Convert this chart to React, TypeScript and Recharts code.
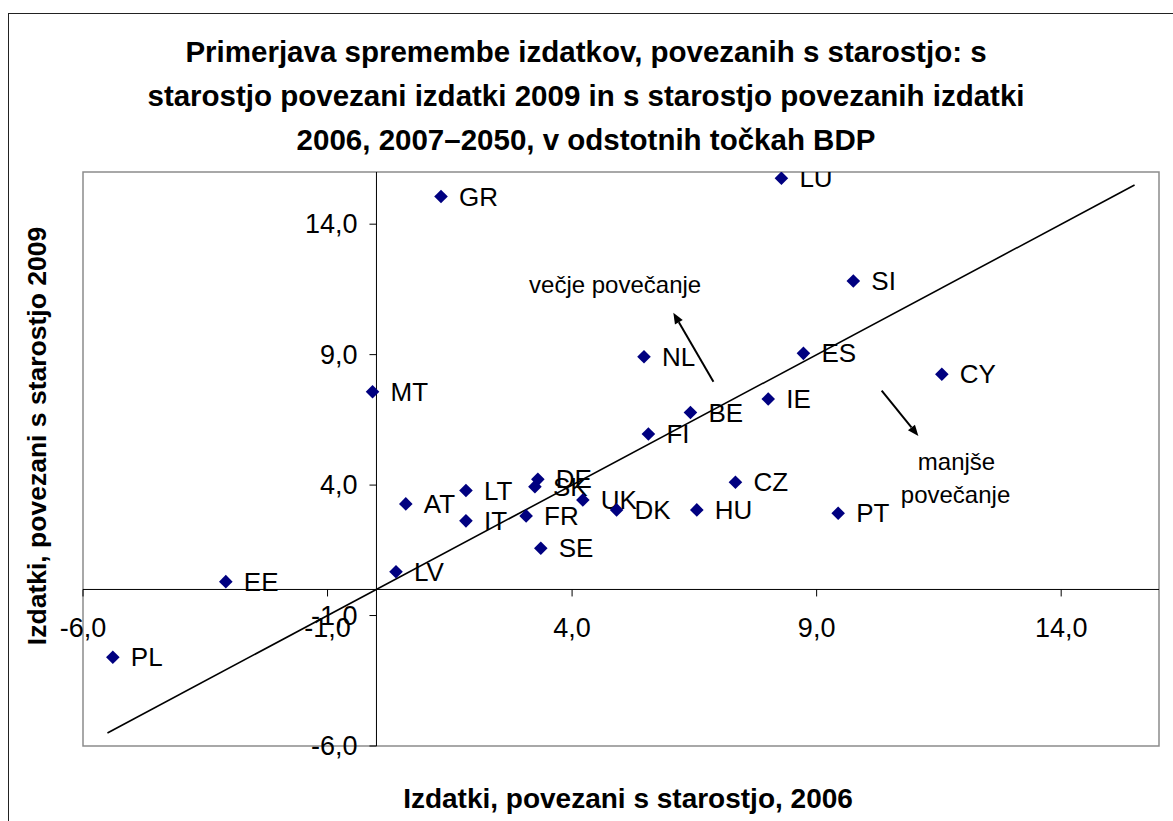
import React from 'react';
import {
  ScatterChart,
  Scatter,
  XAxis,
  YAxis,
  ReferenceLine,
  ReferenceArea,
  ReferenceDot,
} from 'recharts';

// Countries and their age-related spending (percentage points of GDP)
const countries = [
  'GR', 'MT', 'LU', 'NL', 'SI', 'ES', 'IE', 'BE', 'FI', 'CY', 'PT', 'EE', 'PL',
  'LV', 'AT', 'LT', 'IT', 'DE', 'SK', 'UK', 'DK', 'FR', 'SE', 'HU', 'CZ',
];
const spending2006 = [
  1.32, -0.08, 8.28, 5.47, 9.75, 8.73, 8.01, 6.42, 5.56, 11.56, 9.44, -3.08, -5.39,
  0.4, 0.6, 1.83, 1.83, 3.3, 3.24, 4.22, 4.91, 3.06, 3.36, 6.55, 7.34,
];
const spending2009 = [
  15.06, 7.58, 15.76, 8.92, 11.82, 9.05, 7.3, 6.78, 5.96, 8.25, 2.92, 0.3, -2.6,
  0.68, 3.28, 3.79, 2.63, 4.22, 3.94, 3.43, 3.05, 2.82, 1.58, 3.05, 4.11,
];

const axisTicks = [-6, -1, 4, 9, 14];
const axisDomain: [number, number] = [-6, 16];
const diagonalEnds = [-5.5, 15.5];

const arrowFrom = [
  [6.89, 7.96],
  [10.33, 7.62],
];
const arrowTo = [
  [6.07, 10.61],
  [11.08, 5.88],
];
const notes = ['večje povečanje', 'manjše', 'povečanje'];
const noteX = [4.88, 11.86, 11.84];
const noteY = [11.67, 4.9, 3.65];

const titleLines = [
  'Primerjava spremembe izdatkov, povezanih s starostjo: s',
  'starostjo povezani izdatki 2009 in s starostjo povezanih izdatki',
  '2006, 2007–2050, v odstotnih točkah BDP',
];

const W = 1173;
const H = 821;
const MARGIN = { top: 172, right: 14, bottom: 45, left: 23 };
const X_AXIS_H = 30;
const Y_AXIS_W = 60;
const PLOT_LEFT = MARGIN.left + Y_AXIS_W;
const PLOT_W = W - MARGIN.right - PLOT_LEFT;
const PLOT_TOP = MARGIN.top;
const PLOT_H = H - MARGIN.bottom - X_AXIS_H - PLOT_TOP;
const span = axisDomain[1] - axisDomain[0];
const zeroX = PLOT_LEFT + (PLOT_W * (0 - axisDomain[0])) / span;
const zeroY = PLOT_TOP + (PLOT_H * (axisDomain[1] - 0)) / span;

const FONT = '"Liberation Sans", Arial, sans-serif';
const fmt = (v: number) => v.toFixed(1).replace('.', ',');

const points = countries.map((name, i) => ({
  name,
  x: spending2006[i],
  y: spending2009[i],
}));

function XTick(props: any) {
  const { x, payload } = props;
  return (
    <g>
      <line x1={x} x2={x} y1={zeroY} y2={zeroY + 7} stroke="#000" />
      <text
        x={x}
        y={zeroY + 39}
        textAnchor="middle"
        dominantBaseline="central"
        fontSize={27}
        fontFamily={FONT}
        fill="#000"
      >
        {fmt(payload.value)}
      </text>
    </g>
  );
}

function YTick(props: any) {
  const { y, payload } = props;
  return (
    <g>
      <line x1={zeroX - 7} x2={zeroX} y1={y} y2={y} stroke="#000" />
      <text
        x={zeroX - 19}
        y={y}
        textAnchor="end"
        dominantBaseline="central"
        fontSize={27}
        fontFamily={FONT}
        fill="#000"
      >
        {fmt(payload.value)}
      </text>
    </g>
  );
}

function CountryMarker(props: any) {
  const { cx, cy } = props;
  const name = props.payload?.name ?? props.name;
  const r = 6.8;
  return (
    <g>
      <polygon
        points={`${cx},${cy - r} ${cx + r},${cy} ${cx},${cy + r} ${cx - r},${cy}`}
        fill="#000080"
      />
      <text
        x={cx + 18}
        y={cy}
        dominantBaseline="central"
        fontSize={26}
        fontFamily={FONT}
        fill="#000"
      >
        {name}
      </text>
    </g>
  );
}

function Arrow(props: any) {
  const { x1, y1, x2, y2 } = props;
  const ang = Math.atan2(y2 - y1, x2 - x1);
  const len = 11;
  const half = 4.5;
  const bx = x2 - len * Math.cos(ang);
  const by = y2 - len * Math.sin(ang);
  const px = -Math.sin(ang) * half;
  const py = Math.cos(ang) * half;
  return (
    <g>
      <line x1={x1} y1={y1} x2={bx} y2={by} stroke="#000" strokeWidth={2} />
      <polygon
        points={`${x2},${y2} ${bx + px},${by + py} ${bx - px},${by - py}`}
        fill="#000"
      />
    </g>
  );
}

export default function App() {
  return (
    <div style={{ position: 'relative', width: W, height: H, overflow: 'hidden', background: '#fff' }}>
      <style>{`body{margin:0;overflow:hidden;}`}</style>
      <div
        style={{
          position: 'absolute',
          left: 8,
          top: 13,
          width: 1300,
          height: 1000,
          border: '1.5px solid #222',
        }}
      />
      <div style={{ position: 'absolute', left: 0, top: 0 }}>
        <ScatterChart width={W} height={H} margin={MARGIN}>
          <XAxis
            type="number"
            dataKey="x"
            domain={axisDomain}
            ticks={axisTicks}
            allowDataOverflow
            axisLine={false}
            tickLine={false}
            height={X_AXIS_H}
            tick={<XTick />}
            interval={0}
          />
          <YAxis
            type="number"
            dataKey="y"
            domain={axisDomain}
            ticks={axisTicks}
            allowDataOverflow
            axisLine={false}
            tickLine={false}
            width={Y_AXIS_W}
            tick={<YTick />}
            interval={0}
          />
          <ReferenceArea
            x1={axisDomain[0]}
            x2={axisDomain[1]}
            y1={axisDomain[0]}
            y2={axisDomain[1]}
            fill="none"
            fillOpacity={0}
            stroke="#8c8c8c"
            strokeWidth={1.5}
          />
          <ReferenceLine x={0} stroke="#000" strokeWidth={1} />
          <ReferenceLine y={0} stroke="#000" strokeWidth={1} />
          <ReferenceLine
            segment={[
              { x: diagonalEnds[0], y: diagonalEnds[0] },
              { x: diagonalEnds[1], y: diagonalEnds[1] },
            ]}
            stroke="#000"
            strokeWidth={1.6}
          />
          {arrowFrom.map((f, i) => (
            <ReferenceLine
              key={`arrow-${i}`}
              segment={[
                { x: f[0], y: f[1] },
                { x: arrowTo[i][0], y: arrowTo[i][1] },
              ]}
              shape={<Arrow />}
            />
          ))}
          {notes.map((t, i) => (
            <ReferenceDot
              key={`note-${i}`}
              x={noteX[i]}
              y={noteY[i]}
              r={0}
              shape={(p: any) => (
                <text
                  x={p.cx}
                  y={p.cy}
                  textAnchor="middle"
                  dominantBaseline="central"
                  fontSize={24}
                  fontFamily={FONT}
                  fill="#000"
                >
                  {t}
                </text>
              )}
            />
          ))}
          <Scatter data={points} shape={<CountryMarker />} isAnimationActive={false} />
        </ScatterChart>
      </div>
      <svg
        width={W}
        height={H}
        style={{ position: 'absolute', left: 0, top: 0, pointerEvents: 'none' }}
      >
        {titleLines.map((line, i) => (
          <text
            key={i}
            x={586}
            y={62 + i * 44}
            textAnchor="middle"
            fontSize={29.5}
            fontWeight="bold"
            fontFamily={FONT}
            fill="#000"
          >
            {line}
          </text>
        ))}
        <text
          x={628}
          y={798}
          textAnchor="middle"
          dominantBaseline="central"
          fontSize={28}
          fontWeight="bold"
          fontFamily={FONT}
          fill="#000"
        >
          Izdatki, povezani s starostjo, 2006
        </text>
        <text
          transform="translate(37 436) rotate(-90)"
          textAnchor="middle"
          dominantBaseline="central"
          fontSize={26.5}
          fontWeight="bold"
          fontFamily={FONT}
          fill="#000"
        >
          Izdatki, povezani s starostjo 2009
        </text>
      </svg>
    </div>
  );
}
